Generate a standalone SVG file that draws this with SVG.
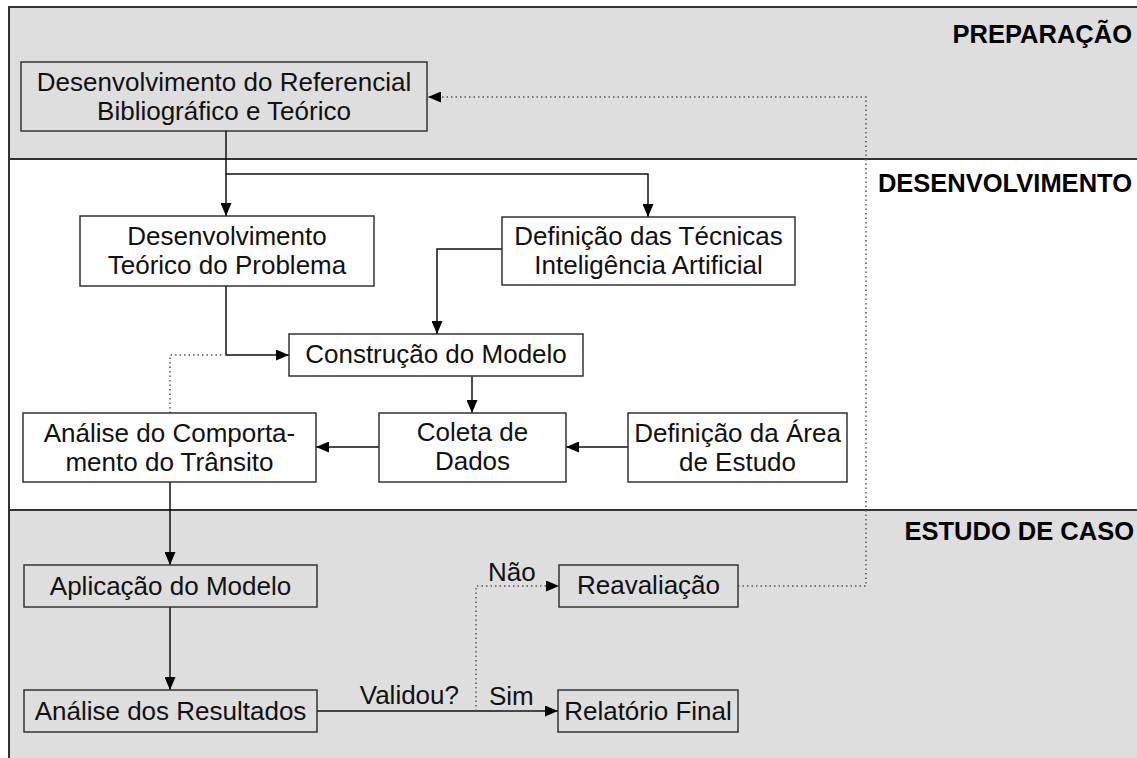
<svg xmlns="http://www.w3.org/2000/svg" width="1137" height="758" viewBox="0 0 1137 758">
<defs>
<marker id="ah" viewBox="0 0 13 11" refX="13" refY="5.5" markerWidth="13" markerHeight="11" markerUnits="userSpaceOnUse" orient="auto">
<path d="M0,0 L13,5.5 L0,11 Z" fill="#000"/>
</marker>
<style>
.lane-g{fill:#dedede;}
.lane-w{fill:#ffffff;}
.frame{fill:none;stroke:#333;stroke-width:2;}
.sep{stroke:#333;stroke-width:2;}
.box-g{fill:#dedede;stroke:#333;stroke-width:1.5;}
.box-w{fill:#ffffff;stroke:#333;stroke-width:1.5;}
.t{font-family:"Liberation Sans",Arial,sans-serif;font-size:26px;fill:#111;text-anchor:middle;}
.lbl{font-family:"Liberation Sans",Arial,sans-serif;font-size:26px;fill:#111;}
.lane-t{font-family:"Liberation Sans",Arial,sans-serif;font-size:25.5px;font-weight:bold;fill:#000;text-anchor:end;}
.c{fill:none;stroke:#111;stroke-width:1.5;}
.d{fill:none;stroke:#555;stroke-width:1.5;stroke-dasharray:1.5 3;}
</style>
</defs>
<g id="lanes">
<rect class="lane-g" x="9" y="7" width="1130" height="152"/>
<rect class="lane-w" x="9" y="159" width="1130" height="351"/>
<rect class="lane-g" x="9" y="510" width="1130" height="250"/>
<path class="frame" d="M1140,7 H9 V760"/>
<line class="sep" x1="9" y1="159" x2="1137" y2="159"/>
<line class="sep" x1="9" y1="510" x2="1137" y2="510"/>
<text class="lane-t" x="1132" y="43">PREPARAÇÃO</text>
<text class="lane-t" x="1132" y="192">DESENVOLVIMENTO</text>
<text class="lane-t" x="1134" y="540">ESTUDO DE CASO</text>
</g>
<g id="connectors">
<path class="c" d="M226,131 V216" marker-end="url(#ah)"/>
<path class="c" d="M226,174 H648 V217" marker-end="url(#ah)"/>
<path class="c" d="M502,249 H437 V334" marker-end="url(#ah)"/>
<path class="c" d="M226,286 V355 H289" marker-end="url(#ah)"/>
<path class="c" d="M472,376 V413" marker-end="url(#ah)"/>
<path class="c" d="M379,447 H316" marker-end="url(#ah)"/>
<path class="c" d="M628,447 H566" marker-end="url(#ah)"/>
<path class="c" d="M170,482 V565" marker-end="url(#ah)"/>
<path class="c" d="M170,607 V690" marker-end="url(#ah)"/>
<path class="c" d="M317,711 H558" marker-end="url(#ah)"/>
<path class="d" d="M170,413 V355 H224"/>
<path class="d" d="M476,711 V586 H559" marker-end="url(#ah)"/>
<path class="d" d="M738,586 H866 V97 H428" marker-end="url(#ah)"/>
<text class="lbl" x="459" y="704" text-anchor="end">Validou?</text>
<text class="lbl" x="488" y="581">Não</text>
<text class="lbl" x="489" y="705">Sim</text>
</g>
<g id="n-referencial">
<rect class="box-g" x="21" y="62" width="406" height="69"/>
<text class="t" x="224" y="91">Desenvolvimento do Referencial</text>
<text class="t" x="224" y="120">Bibliográfico e Teórico</text>
</g>
<g id="n-teorico">
<rect class="box-w" x="80" y="216" width="294" height="70"/>
<text class="t" x="227" y="245">Desenvolvimento</text>
<text class="t" x="227" y="274">Teórico do Problema</text>
</g>
<g id="n-tecnicas">
<rect class="box-w" x="502" y="217" width="293" height="68"/>
<text class="t" x="648.5" y="245">Definição das Técnicas</text>
<text class="t" x="648.5" y="274">Inteligência Artificial</text>
</g>
<g id="n-construcao">
<rect class="box-w" x="289" y="334" width="294" height="42"/>
<text class="t" x="436" y="363">Construção do Modelo</text>
</g>
<g id="n-comportamento">
<rect class="box-w" x="23" y="413" width="293" height="69"/>
<text class="t" x="169.5" y="442">Análise do Comporta-</text>
<text class="t" x="169.5" y="471">mento do Trânsito</text>
</g>
<g id="n-coleta">
<rect class="box-w" x="379" y="413" width="187" height="69"/>
<text class="t" x="472.5" y="441">Coleta de</text>
<text class="t" x="472.5" y="470">Dados</text>
</g>
<g id="n-area">
<rect class="box-w" x="628" y="413" width="219" height="69"/>
<text class="t" x="737.5" y="442">Definição da Área</text>
<text class="t" x="737.5" y="471">de Estudo</text>
</g>
<g id="n-aplicacao">
<rect class="box-g" x="24" y="565" width="293" height="42"/>
<text class="t" x="170.5" y="595">Aplicação do Modelo</text>
</g>
<g id="n-resultados">
<rect class="box-g" x="24" y="690" width="293" height="42"/>
<text class="t" x="170.5" y="720">Análise dos Resultados</text>
</g>
<g id="n-reavaliacao">
<rect class="box-g" x="559" y="565" width="179" height="42"/>
<text class="t" x="648.5" y="594">Reavaliação</text>
</g>
<g id="n-relatorio">
<rect class="box-g" x="558" y="690" width="180" height="42"/>
<text class="t" x="648" y="720">Relatório Final</text>
</g>
</svg>
